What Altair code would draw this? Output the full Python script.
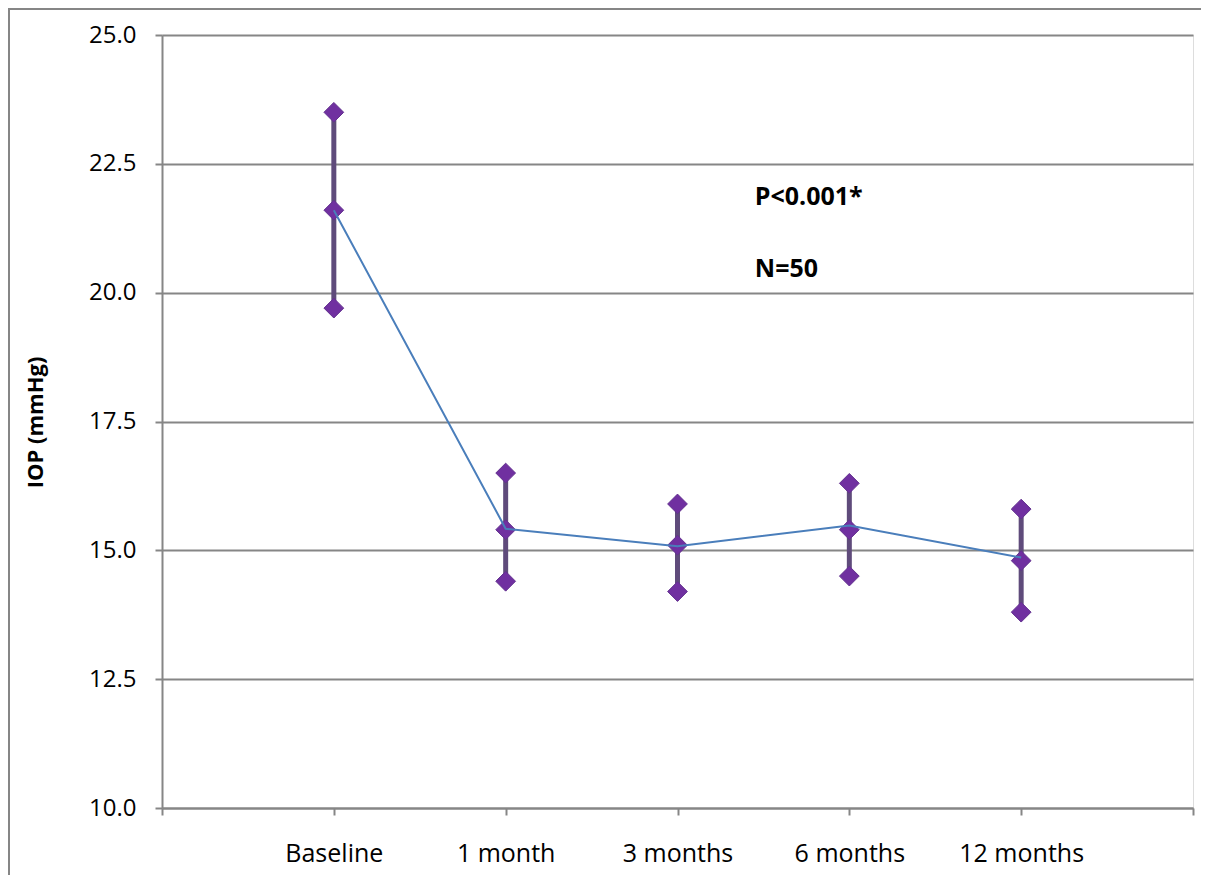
import altair as alt
import pandas as pd

# ---- data ----
categories = ["Baseline", "1 month", "3 months", "6 months", "12 months"]
upper = [23.5, 16.5, 15.9, 16.3, 15.8]
mid = [21.6, 15.4, 15.1, 15.4, 14.8]
lower = [19.7, 14.4, 14.2, 14.5, 13.8]
line_mean = [21.6, 15.42, 15.08, 15.48, 14.86]

ann_text = ["P<0.001*", "N=50"]
ann_x = [3.45, 3.45]
ann_y = [21.85, 20.45]

y_ticks = [10.0, 12.5, 15.0, 17.5, 20.0, 22.5, 25.0]

FONT = "Open Sans"
GRAY = "#868686"

df = pd.DataFrame({
    "cat": categories,
    "pos": list(range(1, len(categories) + 1)),
    "upper": upper,
    "mid": mid,
    "lower": lower,
    "mean": line_mean,
})
pts = pd.concat([
    pd.DataFrame({"pos": df["pos"], "v": df["upper"]}),
    pd.DataFrame({"pos": df["pos"], "v": df["mid"]}),
    pd.DataFrame({"pos": df["pos"], "v": df["lower"]}),
])
ann = pd.DataFrame({"t": ann_text, "x": ann_x, "y": ann_y})

n = len(categories)
label_arr = "[''," + ",".join("'" + c + "'" for c in categories) + ",'']"

x_scale = alt.Scale(domain=[0, n + 1], nice=False, zero=False)
y_scale = alt.Scale(domain=[10, 25], nice=False, zero=False)

x_axis = alt.Axis(
    values=list(range(0, n + 2)), labelExpr=label_arr + "[datum.value]",
    grid=False, title=None, domainColor=GRAY, domainWidth=2,
    tickColor=GRAY, tickWidth=2, tickSize=7, labelFont=FONT, labelFontSize=25,
    labelColor="#000000", labelPadding=26, labelBaseline="top", labelAngle=0,
)
y_axis = alt.Axis(
    values=y_ticks, format=".1f", grid=True, gridColor=GRAY, gridWidth=2,
    domainColor=GRAY, domainWidth=2, tickColor=GRAY, tickWidth=2, tickSize=7,
    labelFont=FONT, labelFontSize=24, labelColor="#000000", labelPadding=19,
    title="IOP (mmHg)", titleFont=FONT, titleFontSize=22, titleFontWeight="bold",
    titleColor="#000000", titleAngle=270, titleX=-127, titleY=387,
    titleAlign="center", titleBaseline="middle",
)

base = alt.Chart(df)

bars = base.mark_rule(color="#5F4B7B", strokeWidth=5).encode(
    x=alt.X("pos:Q", scale=x_scale, axis=x_axis),
    y=alt.Y("lower:Q", scale=y_scale, axis=y_axis),
    y2="upper:Q",
)

diamonds = alt.Chart(pts).mark_point(
    shape="diamond", filled=True, size=390, color="#7030A0",
    stroke="#63318f", strokeWidth=1, opacity=1,
).encode(
    x=alt.X("pos:Q", scale=x_scale),
    y=alt.Y("v:Q", scale=y_scale),
)

line = base.mark_line(color="#4A7EBB", strokeWidth=2).encode(
    x=alt.X("pos:Q", scale=x_scale),
    y=alt.Y("mean:Q", scale=y_scale),
)

text = alt.Chart(ann).mark_text(
    align="left", baseline="middle", font=FONT, fontSize=25,
    fontWeight="bold", color="#000000",
).encode(
    x=alt.X("x:Q", scale=x_scale),
    y=alt.Y("y:Q", scale=y_scale),
    text="t:N",
)

one = pd.DataFrame({"a": [0]})
frame_left = alt.Chart(one).mark_rule(color=GRAY, strokeWidth=2).encode(
    x=alt.value(-153), y=alt.value(-26), y2=alt.value(860),
)
frame_top = alt.Chart(one).mark_rule(color=GRAY, strokeWidth=2).encode(
    x=alt.value(-154), x2=alt.value(1045), y=alt.value(-26),
)

chart = alt.layer(frame_left, frame_top, bars, diamonds, line, text).properties(
    width=1031, height=773,
    padding={"left": 154, "top": 27, "right": 8, "bottom": 67},
    autosize=alt.AutoSizeParams(type="none"),
).configure_view(stroke=None).configure(background="white")

chart.save("out.html", embed_options={"renderer": "svg", "actions": False})
